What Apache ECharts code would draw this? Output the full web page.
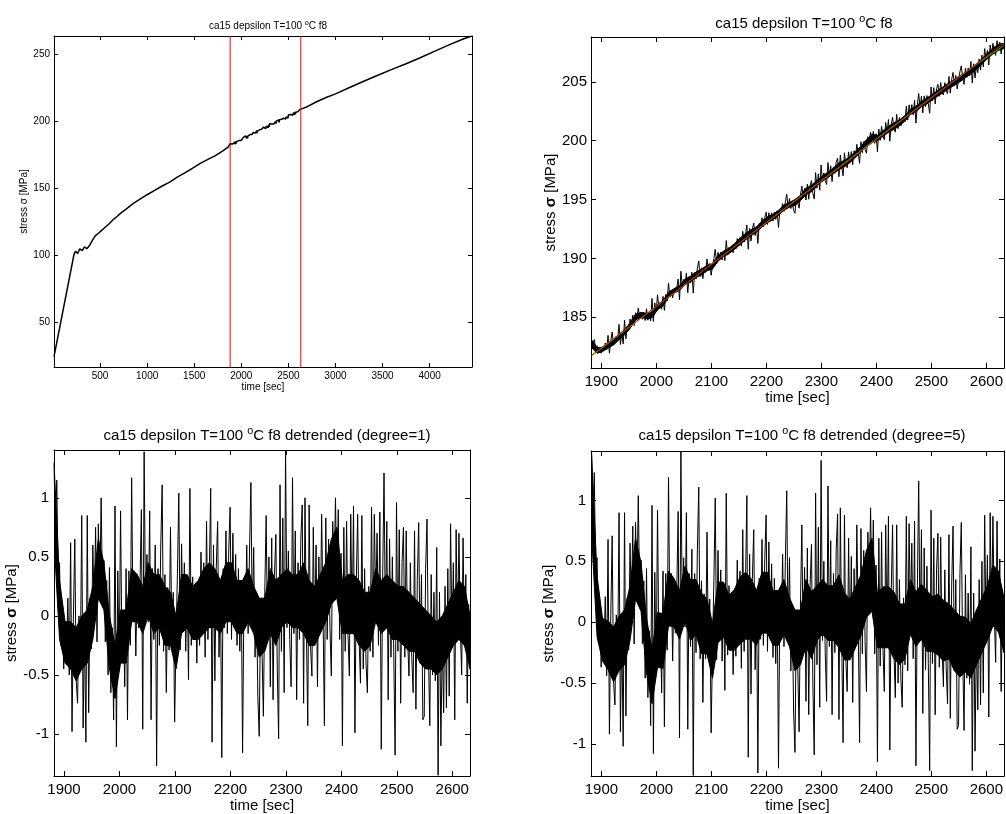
<!DOCTYPE html>
<html>
<head>
<meta charset="utf-8">
<script src="https://cdn.jsdelivr.net/npm/echarts@6/dist/echarts.min.js"></script>
<style>
  html, body { margin: 0; padding: 0; background: #fff; }
  #chart { width: 1006px; height: 814px; }
</style>
</head>
<body>
<div id="chart"></div>
<script>
// whole test run (top left)
const fullTimeHead = [11, 224, 240, 262, 285, 310, 335, 360, 390, 420, 450, 480, 520, 560, 600, 640, 680, 720, 780, 850, 920, 1000, 1080, 1160, 1240, 1320, 1400, 1480, 1560, 1640, 1720, 1800, 1860];
const fullStressHead = [24.4, 100.9, 103.0, 101.3, 104.8, 103.4, 106.2, 104.9, 107.5, 111.2, 114.6, 116.2, 118.7, 121.2, 123.7, 126.6, 128.9, 131.4, 134.6, 138.5, 141.6, 145.1, 148.3, 151.6, 154.5, 158.2, 161.4, 164.8, 168.3, 171.2, 174.1, 177.6, 180.6];
const fullTimeTail = [2700, 2800, 2900, 3000, 3150, 3300, 3450, 3600, 3750, 3900, 4050, 4200, 4350, 4445];
const fullStressTail = [210.7, 214.4, 217.6, 220.3, 225.0, 229.7, 234.1, 238.5, 242.7, 247.2, 251.9, 256.6, 261.0, 263.4];

// analysed window (red lines in the top-left panel)
const windowEdges = [1882, 2632];
const winStart = 1882;
const winStep = 2.5;

// linear fit (red) and 5th degree fit (green) in the window
const trendTime = [1882, 2632];
const trendStress = [181.79, 208.27];
const poly5Time = [1882, 1950, 2050, 2150, 2250, 2350, 2450, 2550, 2600, 2632];
const poly5Stress = [181.71, 184.14, 187.71, 191.28, 194.83, 198.38, 201.90, 205.38, 207.05, 208.07];

// detrended stress, degree=1, one value every 2.5 s from 1882 s (spikes)
const resid1 = [
  1.30, 0.70, 1.15, 0.30, 0.45, -0.25, 0.05, -0.45, -0.05, -0.35,
  0.15, -0.50, 0.62, -0.98, 0.00, 0.65, -0.55, -0.74, 0.00, -0.40,
  0.85, -0.95, -0.10, -1.07, 0.85, -0.82, 0.15, -0.28, 0.60, 0.05,
  0.75, -0.22, 0.78, 0.20, 1.00, 0.15, 0.47, -0.22, 0.30, -0.50,
  0.41, -0.65, -0.10, -0.88, 0.93, -1.11, 0.38, -0.45, 0.89, -0.30,
  0.05, -0.60, 0.40, -0.88, 0.38, -0.25, 1.17, -0.05, 0.38, -0.34,
  0.30, -0.10, 0.25, 0.90, -0.96, 1.39, 0.05, 0.52, -0.05, 0.89,
  -0.88, 0.40, -0.20, 0.60, -1.27, 0.40, -0.25, 0.60, 1.11, -0.30,
  0.35, -0.65, 0.24, -0.29, 0.75, -0.20, 0.20, -0.90, -0.20, 0.35,
  1.04, -0.29, 0.61, -0.10, 0.45, -0.30, 0.30, -0.54, 1.08, -0.25,
  0.33, -0.20, 0.22, -0.40, 0.25, -0.25, 0.54, -0.15, 0.45, -0.35,
  0.80, -0.20, 0.35, 1.08, -1.07, 0.60, -0.55, 0.40, 0.80, -0.35,
  0.30, -1.20, 0.40, -0.10, 0.72, -0.15, 0.55, 0.92, -0.20, 0.70,
  -0.10, 0.52, -0.25, 0.40, -0.30, 0.30, -1.16, 0.20, -0.10, 0.60,
  -0.15, 0.55, 1.13, -0.05, 0.58, -0.35, 0.20, -0.68, -1.02, 0.15,
  -0.30, -0.85, 0.20, 0.85, -0.20, 0.50, -0.60, 0.66, -0.71, 0.35,
  0.69, -0.45, -1.04, 1.11, -0.30, 0.83, -0.65, 1.40, -0.10, 0.55,
  -0.20, -0.60, 1.17, -0.15, 0.72, -0.71, 0.45, -0.20, 0.65, 0.94,
  -0.74, 1.00, -0.10, -0.93, 0.94, -0.25, -0.51, 0.75, -0.20, 0.60,
  -0.60, 0.50, -0.15, 0.86, 0.05, -0.93, 0.83, -0.20, 0.65, -0.10,
  -0.51, 0.80, 0.35, 1.00, 0.20, 0.90, -0.20, 0.53, -1.10, 0.75,
  -0.30, 0.80, -0.15, -0.51, 0.86, -0.10, 0.93, -0.99, 0.30, 0.86,
  -0.20, -0.57, 0.85, -0.45, 0.40, -0.40, -0.65, 0.25, -0.30, 0.92,
  -0.35, 0.86, 0.10, 0.70, -0.25, 0.88, -1.13, 0.30, 1.21, -0.10,
  0.80, -0.71, 0.65, -0.35, 0.50, -0.30, -1.18, 0.96, -0.30, 0.73,
  -0.74, 0.45, 0.75, -0.35, 0.72, -0.20, -0.51, 0.45, -0.35, -0.65,
  0.72, -0.79, 0.30, 0.79, -0.40, 0.35, -0.88, -0.85, 0.40, 0.82,
  -0.30, -0.93, 0.35, -0.50, 0.20, -0.55, 0.58, -1.35, 0.20, -1.10,
  -0.20, -0.82, 0.25, -0.78, 0.40, -0.68, 0.78, -0.20, 0.45, -0.88,
  0.73, -0.20, 0.70, -0.10, -0.50, 0.66, -0.25, 0.35, -0.74, 0.10,
  -0.30
];

// detrended stress, degree=5, same sampling
const resid5 = [
  1.40, 0.78, 1.23, 0.38, 0.53, -0.17, 0.13, -0.37, 0.03, -0.27,
  0.21, -0.44, 0.68, -0.92, 0.06, 0.71, -0.49, -0.68, 0.06, -0.34,
  0.90, -0.90, -0.05, -1.02, 0.90, -0.77, 0.20, -0.23, 0.65, 0.10,
  0.79, -0.18, 0.82, 0.24, 1.04, 0.19, 0.51, -0.18, 0.34, -0.46,
  0.44, -0.62, -0.07, -0.85, 0.96, -1.08, 0.41, -0.42, 0.92, -0.27,
  0.07, -0.58, 0.42, -0.86, 0.40, -0.23, 1.19, -0.03, 0.40, -0.32,
  0.31, -0.09, 0.26, 0.91, -0.95, 1.40, 0.06, 0.53, -0.04, 0.90,
  -0.88, 0.40, -0.20, 0.60, -1.26, 0.40, -0.25, 0.60, 1.11, -0.30,
  0.34, -0.66, 0.23, -0.30, 0.74, -0.21, 0.19, -0.91, -0.21, 0.34,
  1.02, -0.31, 0.59, -0.12, 0.43, -0.32, 0.28, -0.56, 1.06, -0.27,
  0.30, -0.23, 0.19, -0.43, 0.22, -0.28, 0.51, -0.18, 0.42, -0.38,
  0.76, -0.24, 0.31, 1.04, -1.11, 0.56, -0.59, 0.36, 0.76, -0.39,
  0.26, -1.24, 0.36, -0.14, 0.68, -0.19, 0.51, 0.88, -0.24, 0.66,
  -0.14, 0.48, -0.29, 0.36, -0.34, 0.26, -1.20, 0.16, -0.14, 0.56,
  -0.20, 0.50, 1.08, -0.10, 0.53, -0.40, 0.15, -0.73, -1.07, 0.10,
  -0.35, -0.90, 0.15, 0.80, -0.25, 0.45, -0.65, 0.61, -0.76, 0.30,
  0.64, -0.50, -1.09, 1.06, -0.35, 0.78, -0.70, 1.33, -0.15, 0.50,
  -0.25, -0.65, 1.12, -0.20, 0.67, -0.76, 0.40, -0.25, 0.60, 0.89,
  -0.80, 0.94, -0.16, -0.99, 0.88, -0.31, -0.57, 0.69, -0.26, 0.54,
  -0.66, 0.44, -0.21, 0.80, -0.01, -0.99, 0.77, -0.26, 0.59, -0.16,
  -0.57, 0.74, 0.29, 0.94, 0.14, 0.84, -0.26, 0.47, -1.15, 0.69,
  -0.36, 0.74, -0.21, -0.57, 0.80, -0.16, 0.87, -1.05, 0.24, 0.80,
  -0.25, -0.62, 0.80, -0.50, 0.35, -0.45, -0.70, 0.20, -0.35, 0.87,
  -0.40, 0.81, 0.05, 0.65, -0.30, 0.83, -1.18, 0.25, 1.16, -0.15,
  0.76, -0.75, 0.61, -0.39, 0.46, -0.34, -1.22, 0.92, -0.34, 0.69,
  -0.76, 0.43, 0.73, -0.37, 0.70, -0.22, -0.53, 0.43, -0.37, -0.67,
  0.72, -0.79, 0.30, 0.79, -0.40, 0.35, -0.88, -0.85, 0.40, 0.82,
  -0.26, -0.89, 0.39, -0.46, 0.24, -0.51, 0.62, -1.22, 0.24, -1.06,
  -0.10, -0.72, 0.35, -0.68, 0.50, -0.58, 0.88, -0.10, 0.55, -0.78,
  0.90, -0.03, 0.87, 0.07, -0.33, 0.83, -0.08, 0.52, -0.57, 0.27,
  -0.10
];

// dense core of the fast oscillation, every 10 s from 1882 s (low / high edge)
const bandStart = 1882;
const bandStep = 10;
const band1Lo = [
  0.65, -0.20, -0.40, -0.45, -0.55, -0.45, -0.40, -0.20, 0.15, 0.05,
  -0.45, -0.70, -0.40, -0.40, -0.05, -0.05, -0.15, 0.00, -0.15, -0.10,
  -0.25, -0.25, -0.45, -0.15, -0.10, -0.20, -0.20, -0.15, -0.10, -0.10,
  -0.15, -0.05, -0.05, -0.15, -0.15, -0.05, -0.15, -0.35, -0.30, -0.15,
  -0.25, -0.10, -0.05, -0.10, -0.10, -0.15, -0.25, -0.25, -0.15, -0.05,
  0.10, 0.15, -0.15, -0.15, -0.15, -0.25, -0.30, -0.25, -0.05, -0.15,
  -0.10, -0.20, -0.20, -0.25, -0.30, -0.30, -0.40, -0.45, -0.45, -0.50,
  -0.45, -0.35, -0.25, -0.20, -0.25, -0.45
];
const band1Hi = [
  1.30, 0.30, -0.05, -0.05, -0.10, 0.00, 0.05, 0.25, 0.65, 0.45,
  0.00, -0.25, 0.05, 0.05, 0.40, 0.35, 0.25, 0.45, 0.35, 0.35,
  0.25, 0.20, 0.00, 0.35, 0.35, 0.25, 0.30, 0.40, 0.45, 0.40,
  0.30, 0.45, 0.45, 0.30, 0.30, 0.40, 0.25, 0.15, 0.15, 0.40,
  0.30, 0.35, 0.40, 0.35, 0.35, 0.45, 0.30, 0.25, 0.35, 0.45,
  0.65, 0.75, 0.30, 0.35, 0.35, 0.30, 0.20, 0.20, 0.40, 0.30,
  0.35, 0.30, 0.25, 0.25, 0.20, 0.15, 0.10, 0.05, 0.00, -0.05,
  0.00, 0.10, 0.20, 0.30, 0.25, 0.00
];
const band5Lo = [
  0.73, -0.12, -0.32, -0.39, -0.49, -0.40, -0.35, -0.15, 0.19, 0.09,
  -0.42, -0.67, -0.37, -0.38, -0.03, -0.04, -0.14, 0.01, -0.15, -0.10,
  -0.26, -0.26, -0.46, -0.17, -0.12, -0.23, -0.23, -0.18, -0.14, -0.14,
  -0.19, -0.09, -0.09, -0.19, -0.19, -0.10, -0.20, -0.40, -0.35, -0.20,
  -0.30, -0.15, -0.10, -0.15, -0.15, -0.21, -0.31, -0.31, -0.21, -0.11,
  0.04, 0.09, -0.21, -0.21, -0.21, -0.30, -0.35, -0.30, -0.10, -0.20,
  -0.14, -0.24, -0.24, -0.27, -0.32, -0.30, -0.40, -0.45, -0.41, -0.46,
  -0.35, -0.25, -0.15, -0.03, -0.08, -0.25
];
const band5Hi = [
  1.38, 0.38, 0.03, 0.01, -0.04, 0.05, 0.10, 0.30, 0.69, 0.49,
  0.03, -0.22, 0.08, 0.07, 0.42, 0.36, 0.26, 0.46, 0.35, 0.35,
  0.24, 0.19, -0.01, 0.33, 0.33, 0.22, 0.27, 0.37, 0.41, 0.36,
  0.26, 0.41, 0.41, 0.26, 0.26, 0.35, 0.20, 0.10, 0.10, 0.35,
  0.25, 0.30, 0.35, 0.30, 0.30, 0.39, 0.24, 0.19, 0.29, 0.39,
  0.59, 0.69, 0.24, 0.29, 0.29, 0.25, 0.15, 0.15, 0.35, 0.25,
  0.31, 0.26, 0.21, 0.23, 0.18, 0.15, 0.10, 0.05, 0.04, -0.01,
  0.10, 0.20, 0.30, 0.47, 0.42, 0.20
];

// tick labels
const ticksFullX = [500, 1000, 1500, 2000, 2500, 3000, 3500, 4000];
const ticksFullY = [50, 100, 150, 200, 250];
const ticksWinX = [1900, 2000, 2100, 2200, 2300, 2400, 2500, 2600];
const ticksWinY = [185, 190, 195, 200, 205];
const ticksResY = [-1, -0.5, 0, 0.5, 1];

// axis limits (tight, as in the original)
const fullXRange = [11, 4450];
const fullYRange = [16.7, 263.4];

const FONT = "'Liberation Sans', Arial, sans-serif";
const TITLE = "ca15 depsilon T=100 {sup|o}C f8";

const winTimes = resid1.map((_, i) => winStart + i * winStep);
const bandTimes = band1Lo.map((_, i) => bandStart + i * bandStep);
const trendAt = (t) =>
  trendStress[0] + (trendStress[1] - trendStress[0]) * (t - trendTime[0]) / (trendTime[1] - trendTime[0]);

// raw stress in the window = linear fit + its residual
const rawWin = winTimes.map((t, i) => [t, +(trendAt(t) + resid1[i]).toFixed(3)]);
const rawLo = bandTimes.map((t, i) => trendAt(t) + band1Lo[i]);
const rawHi = bandTimes.map((t, i) => trendAt(t) + band1Hi[i]);
const fullData = fullTimeHead.map((t, i) => [t, fullStressHead[i]])
  .concat(rawWin)
  .concat(fullTimeTail.map((t, i) => [t, fullStressTail[i]]));

// one bottom/left axis with labels plus a mirrored top/right one, matlab box style
function axes(dim, grid, min, max, ticks, fs, tickLen, margin, name, nameGap) {
  const base = {
    type: "value",
    gridIndex: grid,
    min, max,
    axisLine: { show: true, onZero: false, lineStyle: { color: "#000", width: 1 } },
    axisTick: { show: true, inside: true, length: tickLen, customValues: ticks, lineStyle: { color: "#000" } },
    splitLine: { show: false },
  };
  const main = Object.assign({}, base, {
    position: dim === "x" ? "bottom" : "left",
    axisLabel: {
      customValues: ticks, fontSize: fs, color: "#000", fontFamily: FONT, margin,
      formatter: (v) => String(v),
    },
    name,
    nameLocation: "middle",
    nameGap,
    nameTextStyle: {
      fontSize: fs, color: "#000", fontFamily: FONT,
      rich: { s: { fontSize: fs, fontWeight: "bold", fontFamily: FONT, color: "#000" } },
    },
  });
  const mirror = Object.assign({}, base, {
    position: dim === "x" ? "top" : "right",
    axisLabel: { show: false },
  });
  return [main, mirror];
}

function title(text, x, y, fs) {
  return {
    text,
    left: x,
    top: y,
    textAlign: "center",
    textStyle: {
      fontSize: fs, fontWeight: "normal", color: "#000", fontFamily: FONT,
      rich: { sup: { fontSize: fs * 0.72, color: "#000", fontFamily: FONT, padding: [0, 0, fs * 0.55, 0] } },
    },
  };
}

const line = (data, xi, color, extra) =>
  Object.assign({
    type: "line",
    data,
    xAxisIndex: xi,
    yAxisIndex: xi,
    showSymbol: false,
    symbol: "none",
    silent: true,
    animation: false,
    lineStyle: { color, width: 1 },
  }, extra || {});

// filled core between lo and hi, drawn through the axis scales
const band = (times, lo, hi, xi) => ({
  type: "custom",
  xAxisIndex: xi,
  yAxisIndex: xi,
  silent: true,
  animation: false,
  clip: true,
  data: [[times[0], lo[0]]],
  renderItem: (params, api) => {
    const pts = times.map((t, i) => api.coord([t, hi[i]]));
    for (let i = times.length - 1; i >= 0; i--) pts.push(api.coord([times[i], lo[i]]));
    return { type: "polygon", shape: { points: pts }, style: { fill: "#000", stroke: "#000", lineWidth: 1 } };
  },
});

// red vertical lines that mark the window in the overview
const windowLines = {
  type: "custom",
  xAxisIndex: 0,
  yAxisIndex: 0,
  silent: true,
  animation: false,
  z: 5,
  data: windowEdges.map((v) => [v, fullYRange[0]]),
  renderItem: (params, api) => {
    const x = api.value(0);
    const p0 = api.coord([x, fullYRange[0]]);
    const p1 = api.coord([x, fullYRange[1]]);
    return {
      type: "line",
      shape: { x1: p0[0], y1: p0[1], x2: p1[0], y2: p1[1] },
      style: { stroke: "#ff0000", lineWidth: 1 },
    };
  },
};

const chart = echarts.init(document.getElementById("chart"), null, { renderer: "canvas" });

const xAxis = [].concat(
  axes("x", 0, fullXRange[0], fullXRange[1], ticksFullX, 10, 4, 4, "time [sec]", 15),
  axes("x", 1, 1881, 2632, ticksWinX, 15, 5, 6, "time [sec]", 21),
  axes("x", 2, 1882, 2632, ticksWinX, 15, 5, 6, "time [sec]", 21),
  axes("x", 3, 1881, 2632, ticksWinX, 15, 5, 6, "time [sec]", 21)
);
const yAxis = [].concat(
  axes("y", 0, fullYRange[0], fullYRange[1], ticksFullY, 10, 4, 4, "stress \u03c3 [MPa]", 22),
  axes("y", 1, 180.7, 208.8, ticksWinY, 15, 5, 4, "stress {s|\u03c3} [MPa]", 22),
  axes("y", 2, -1.357, 1.405, ticksResY, 15, 5, 5, "stress {s|\u03c3} [MPa]", 24),
  axes("y", 3, -1.265, 1.407, ticksResY, 15, 5, 5, "stress {s|\u03c3} [MPa]", 25)
);

chart.setOption({
  animation: false,
  backgroundColor: "#fff",
  title: [
    title(TITLE, 263, 15, 10),
    title(TITLE, 799, 9, 15),
    title(TITLE + " detrended (degree=1)", 262, 421, 15),
    title(TITLE + " detrended (degree=5)", 797, 421, 15),
  ],
  grid: [
    { left: 54, top: 36, width: 418, height: 331 },
    { left: 591, top: 37, width: 416, height: 331 },
    { left: 54, top: 450, width: 416, height: 329 },
    { left: 591, top: 451, width: 416, height: 328 },
  ],
  xAxis,
  yAxis,
  series: [
    line(fullData, 0, "#000", { lineStyle: { color: "#000", width: 1.5 } }),
    windowLines,
    band(bandTimes, rawLo, rawHi, 2),
    line(rawWin, 2, "#000"),
    line(poly5Time.map((t, i) => [t, poly5Stress[i]]), 2, "#00e000", { smooth: true }),
    line(trendTime.map((t, i) => [t, trendStress[i]]), 2, "#ff0000"),
    band(bandTimes, band1Lo, band1Hi, 4),
    line(winTimes.map((t, i) => [t, resid1[i]]), 4, "#000"),
    band(bandTimes, band5Lo, band5Hi, 6),
    line(winTimes.map((t, i) => [t, resid5[i]]), 6, "#000"),
  ],
});
</script>
</body>
</html>
